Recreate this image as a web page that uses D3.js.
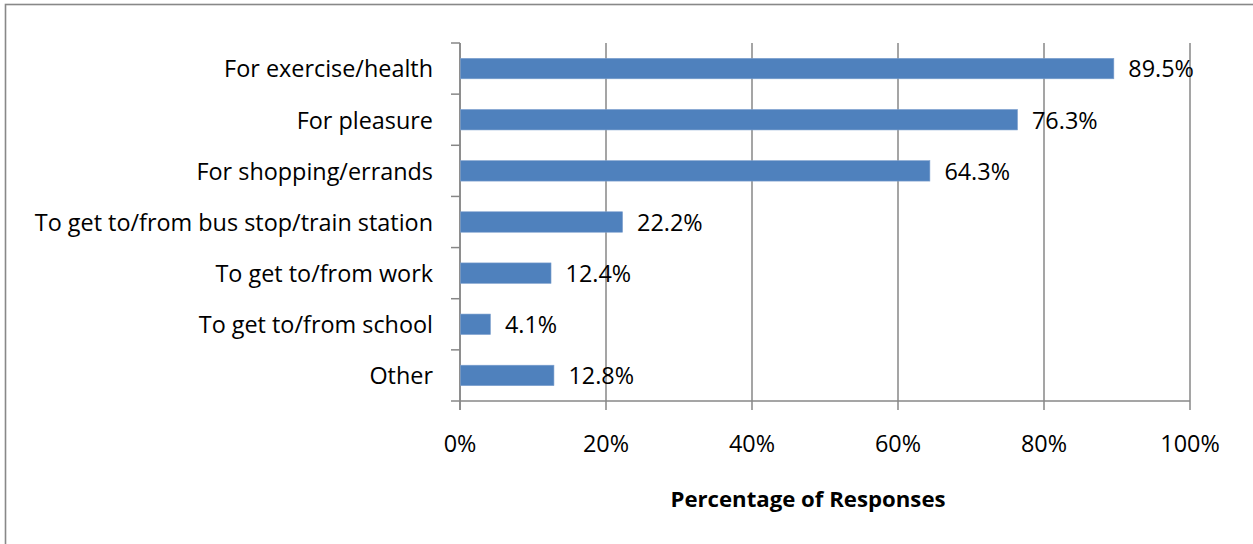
<!DOCTYPE html>
<html><head><meta charset="utf-8">
<script src="https://cdn.jsdelivr.net/npm/d3@7/dist/d3.min.js"></script>
<style>
body{margin:0;background:#fff;}
text{font-family:"Open Sans", Lato, sans-serif;fill:#000;}
</style></head>
<body><svg id="c" width="1253" height="544"></svg>
<script>
const categories = ["For exercise/health","For pleasure","For shopping/errands","To get to/from bus stop/train station","To get to/from work","To get to/from school","Other"];
const values = [89.5, 76.3, 64.3, 22.2, 12.4, 4.1, 12.8];
const tickValues = [0, 20, 40, 60, 80, 100];
const axisTitle = "Percentage of Responses";

const svg = d3.select("#c");
const W = 1253, H = 544;

// outer border
svg.append("rect").attr("x",5.5).attr("y",4.5).attr("width",W+10).attr("height",H+10)
  .attr("fill","none").attr("stroke","#888").attr("stroke-width",1.6);

const x = d3.scaleLinear().domain([0,100]).range([460,1190]);
const y = d3.scaleBand().domain(categories).range([43,401]).paddingInner(0.6).paddingOuter(0.3);

const fs = 23.4;
svg.append("g").selectAll("line").data(tickValues).join("line")
  .attr("x1",d=>x(d)).attr("x2",d=>x(d)).attr("y1",43).attr("y2",410)
  .attr("stroke","#878787").attr("stroke-width",1.5);

svg.append("line").attr("x1",460).attr("x2",1190).attr("y1",401).attr("y2",401)
  .attr("stroke","#878787").attr("stroke-width",1.5);
svg.append("line").attr("x1",460).attr("x2",460).attr("y1",43).attr("y2",410)
  .attr("stroke","#878787").attr("stroke-width",1.5);
const tickYs = d3.range(categories.length+1).map(i=>43 + i*(358/categories.length));
svg.append("g").selectAll("line").data(tickYs).join("line")
  .attr("x1",451).attr("x2",460).attr("y1",d=>d).attr("y2",d=>d)
  .attr("stroke","#878787").attr("stroke-width",1.5);

svg.append("g").selectAll("rect").data(values).join("rect")
  .attr("x",x(0)+0.5).attr("y",(d,i)=>y(categories[i]))
  .attr("width",d=>x(d)-x(0)).attr("height",y.bandwidth())
  .attr("fill","#4F81BD").attr("stroke","#7DA0CE").attr("stroke-width",0.6);

svg.append("g").selectAll("text").data(categories).join("text")
  .attr("x",433).attr("y",d=>y(d)+y.bandwidth()/2).attr("dy","0.38em")
  .attr("text-anchor","end").attr("font-size",fs).text(d=>d);

svg.append("g").selectAll("text").data(values).join("text")
  .attr("x",d=>x(d)+15).attr("y",(d,i)=>y(categories[i])+y.bandwidth()/2).attr("dy","0.38em")
  .attr("font-size",fs).text(d=>d.toFixed(1)+"%");

svg.append("g").selectAll("text").data(tickValues).join("text")
  .attr("x",d=>x(d)).attr("y",452).attr("text-anchor","middle")
  .attr("font-size",fs).text(d=>d+"%");

svg.append("text").attr("x",808).attr("y",507).attr("text-anchor","middle")
  .attr("font-size",22.2).attr("font-weight","bold").text(axisTitle);
</script></body></html>
